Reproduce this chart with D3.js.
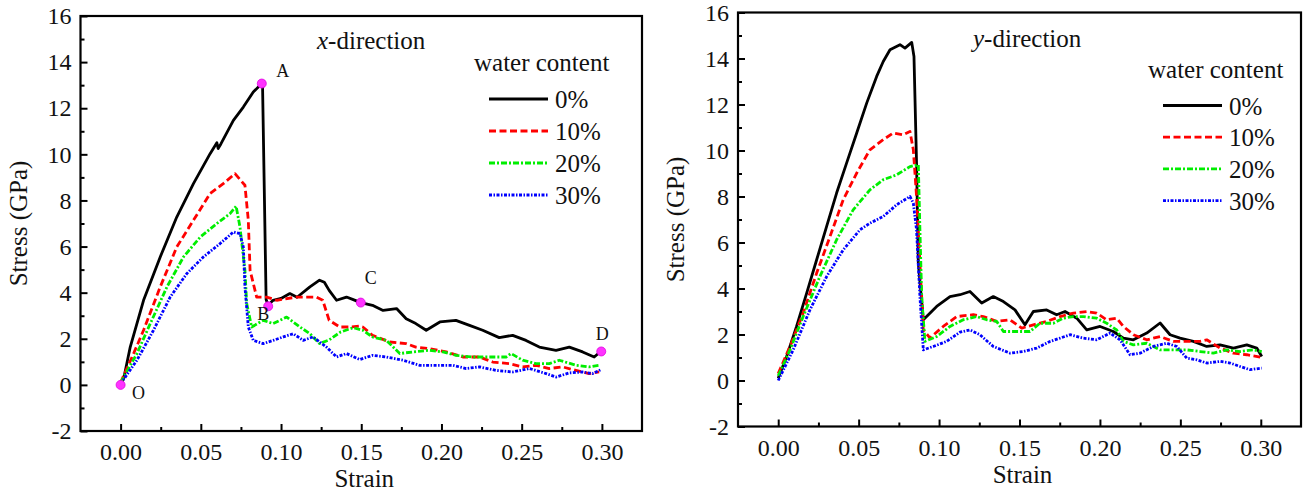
<!DOCTYPE html>
<html>
<head>
<meta charset="utf-8">
<script src="https://cdn.jsdelivr.net/npm/d3@7"></script>
<style>
  body { margin: 0; background: #fff; }
  svg text { font-family: "Liberation Serif", "Times New Roman", "DejaVu Serif", serif; fill: #111; }
</style>
</head>
<body>
<div id="chart-area"></div>
<script>
// tick values
var strainTicks = [0, 0.05, 0.10, 0.15, 0.20, 0.25, 0.30];
var strainMinor = [0.025, 0.075, 0.125, 0.175, 0.225, 0.275];
var stressTicks = [-2, 0, 2, 4, 6, 8, 10, 12, 14, 16];
var stressMinor = [-1, 1, 3, 5, 7, 9, 11, 13, 15];
var waterContent = ["0%", "10%", "20%", "30%"];

// x-direction, [strain, stress (GPa)]
var xdir0 = [[0,0],[0.002,0.3],[0.006,1.64],[0.0143,3.67],[0.0247,5.55],[0.035,7.28],[0.0454,8.73],[0.0558,10.03],[0.06,10.5],[0.0608,10.25],[0.0625,10.45],[0.0703,11.47],[0.0765,12.05],[0.0827,12.7],[0.088,13.07],[0.0885,12.9],[0.0907,3.7],[0.092,3.45],[0.095,3.67],[0.1,3.75],[0.1055,3.96],[0.11,3.8],[0.118,4.25],[0.124,4.54],[0.127,4.45],[0.130,4.1],[0.1346,3.67],[0.1408,3.81],[0.145,3.7],[0.1497,3.57],[0.157,3.45],[0.1636,3.23],[0.172,3.31],[0.178,2.87],[0.184,2.66],[0.1905,2.37],[0.199,2.73],[0.209,2.8],[0.2175,2.58],[0.2257,2.37],[0.236,2.05],[0.2444,2.15],[0.2527,1.93],[0.261,1.64],[0.2714,1.5],[0.2797,1.64],[0.288,1.43],[0.2952,1.21],[0.2994,1.46]];
var xdir10 = [[0,0.1],[0.0081,1.36],[0.0143,2.37],[0.0247,4.25],[0.035,5.98],[0.0454,7.14],[0.0558,8.3],[0.064,8.73],[0.0713,9.16],[0.0775,8.66],[0.0796,7.14],[0.0807,4.97],[0.0848,3.81],[0.091,3.81],[0.0973,3.67],[0.1097,3.81],[0.1221,3.81],[0.126,3.67],[0.130,2.8],[0.1366,2.51],[0.143,2.51],[0.149,2.55],[0.151,2.51],[0.157,2.15],[0.1677,1.86],[0.178,1.79],[0.184,1.64],[0.1926,1.57],[0.203,1.43],[0.2133,1.21],[0.2237,1.21],[0.232,0.99],[0.2423,0.92],[0.2506,0.78],[0.2589,0.85],[0.2672,0.71],[0.2755,0.78],[0.2838,0.63],[0.292,0.49],[0.2983,0.56]];
var xdir20 = [[0,0.1],[0.0102,1.36],[0.0185,2.66],[0.0289,4.25],[0.0392,5.55],[0.0496,6.41],[0.06,7.0],[0.0682,7.43],[0.072,7.75],[0.0744,6.85],[0.0775,4.97],[0.0786,3.53],[0.0817,2.51],[0.0889,2.8],[0.0951,2.66],[0.1035,2.94],[0.1118,2.51],[0.118,2.22],[0.124,1.79],[0.130,1.95],[0.137,2.29],[0.145,2.48],[0.151,2.37],[0.157,2.08],[0.1657,1.93],[0.174,1.36],[0.1822,1.43],[0.1926,1.5],[0.2009,1.43],[0.2092,1.28],[0.2195,1.21],[0.23,1.21],[0.2403,1.21],[0.2434,1.36],[0.2506,1.07],[0.2589,0.92],[0.2672,0.92],[0.2734,1.07],[0.2838,0.85],[0.292,0.78],[0.2983,0.85]];
var xdir30 = [[0,0.05],[0.0102,1.07],[0.0205,2.37],[0.0309,3.81],[0.0413,4.83],[0.0516,5.55],[0.062,6.13],[0.0703,6.63],[0.0744,6.56],[0.0765,5.98],[0.0775,4.25],[0.0796,2.51],[0.0827,1.93],[0.0889,1.79],[0.0951,1.93],[0.1014,2.08],[0.1076,2.22],[0.1138,1.93],[0.12,2.08],[0.1283,1.64],[0.1346,1.21],[0.1408,1.36],[0.149,1.1],[0.157,1.28],[0.1657,1.21],[0.176,1.07],[0.1864,0.85],[0.1968,0.85],[0.2071,0.85],[0.2154,0.71],[0.2237,0.78],[0.234,0.63],[0.2444,0.56],[0.2548,0.71],[0.2652,0.49],[0.2714,0.34],[0.2797,0.52],[0.288,0.56],[0.2942,0.49],[0.2994,0.66]];

// y-direction
var ydir0 = [[0,0.1],[0.0052,1.04],[0.0114,2.35],[0.0177,3.8],[0.0239,5.25],[0.0301,6.7],[0.0363,8.15],[0.0425,9.45],[0.0488,10.76],[0.055,12.06],[0.0612,13.22],[0.0653,13.87],[0.0695,14.38],[0.0757,14.6],[0.0788,14.45],[0.083,14.7],[0.0844,14.09],[0.086,9.45],[0.0871,5.1],[0.0902,2.64],[0.0985,3.22],[0.1068,3.65],[0.113,3.73],[0.1192,3.87],[0.1265,3.37],[0.1337,3.65],[0.14,3.43],[0.1472,3.07],[0.1534,2.42],[0.1586,3.0],[0.1669,3.07],[0.1731,2.86],[0.1783,3.0],[0.1856,2.71],[0.1918,2.2],[0.2001,2.35],[0.2083,2.13],[0.2146,1.84],[0.2208,1.77],[0.2291,2.06],[0.2374,2.5],[0.2436,1.99],[0.2498,1.84],[0.2581,1.7],[0.2664,1.48],[0.2747,1.55],[0.283,1.41],[0.2913,1.55],[0.2975,1.41],[0.3006,1.04]];
var ydir10 = [[0,0.3],[0.0073,1.48],[0.0155,2.93],[0.0239,4.67],[0.0322,6.26],[0.0404,7.86],[0.0488,9.02],[0.057,10.03],[0.0653,10.47],[0.0715,10.76],[0.0777,10.68],[0.0819,10.83],[0.084,10.03],[0.086,8.0],[0.0881,5.1],[0.0902,2.2],[0.0943,1.85],[0.1026,2.35],[0.111,2.78],[0.1213,2.86],[0.1275,2.78],[0.1358,2.57],[0.1441,2.64],[0.1514,2.28],[0.1586,2.42],[0.1669,2.57],[0.1752,2.78],[0.1835,2.93],[0.1918,3.0],[0.198,2.93],[0.2042,2.64],[0.2104,2.71],[0.2146,2.35],[0.2208,1.99],[0.2291,1.77],[0.2374,1.91],[0.2456,1.7],[0.254,1.7],[0.2622,1.7],[0.2664,1.77],[0.2747,1.41],[0.283,1.19],[0.2913,1.12],[0.2996,1.02]];
var ydir20 = [[0,0.2],[0.0073,1.33],[0.0155,2.78],[0.0259,4.52],[0.0363,6.12],[0.0466,7.42],[0.057,8.29],[0.0653,8.73],[0.0736,8.94],[0.0819,9.3],[0.0871,9.38],[0.0881,6.55],[0.0892,3.65],[0.0912,1.7],[0.0985,1.91],[0.1068,2.35],[0.115,2.64],[0.1234,2.78],[0.1296,2.64],[0.1358,2.57],[0.14,2.13],[0.1483,2.13],[0.1565,2.13],[0.1627,2.49],[0.171,2.49],[0.1772,2.71],[0.1835,2.78],[0.1897,2.78],[0.198,2.71],[0.2042,2.49],[0.2104,2.2],[0.2146,1.7],[0.2208,1.55],[0.2291,1.62],[0.2374,1.33],[0.2456,1.33],[0.254,1.33],[0.2622,1.26],[0.2705,1.19],[0.2789,1.33],[0.2871,1.26],[0.2954,1.33],[0.3006,1.26]];
var ydir30 = [[0,0],[0.0093,1.33],[0.0197,3.07],[0.0301,4.52],[0.0404,5.68],[0.0508,6.55],[0.057,6.84],[0.0653,7.13],[0.0736,7.64],[0.0819,8.0],[0.084,7.71],[0.086,6.55],[0.0881,3.65],[0.0902,1.33],[0.0964,1.48],[0.1047,1.7],[0.113,2.1],[0.1192,2.2],[0.1254,1.99],[0.1337,1.48],[0.1441,1.19],[0.1524,1.26],[0.1607,1.41],[0.169,1.7],[0.1752,1.84],[0.1814,1.99],[0.1897,1.84],[0.198,1.77],[0.2063,2.06],[0.2125,1.77],[0.2167,1.33],[0.2187,1.12],[0.225,1.19],[0.2332,1.48],[0.2415,1.62],[0.2478,1.48],[0.254,0.97],[0.2602,0.9],[0.2664,0.76],[0.2747,0.83],[0.2809,0.76],[0.2871,0.61],[0.2933,0.47],[0.3006,0.54]];

// marked points on the x-direction 0% curve
var xMarkers = [
  { name: "O", strain: 0, stress: 0 },
  { name: "A", strain: 0.088, stress: 13.07 },
  { name: "B", strain: 0.092, stress: 3.41 },
  { name: "C", strain: 0.1497, stress: 3.57 },
  { name: "D", strain: 0.2996, stress: 1.45 }
];

var W = 1308, H = 499;
var serif = "'Liberation Serif', 'Times New Roman', 'DejaVu Serif', serif";
var colors = ["#000000", "#ff0000", "#00ee00", "#0000ff"];
var dashes = [null, "7,3.5", "6,2,2,2", "3,1.5,1.5,1.5"];
var labelOffset = { O: [18, 14], A: [21, -7], B: [-5, 14], C: [10, -19], D: [1, -11] };

var svg = d3.select("#chart-area")
  .append("svg")
  .attr("width", W)
  .attr("height", H)
  .attr("font-family", serif)
  .style("background", "#fff");

function drawPanel(p) {
  var x = d3.scaleLinear().domain([-0.025, 0.325]).range([p.left, p.right]);
  var y = d3.scaleLinear().domain([-2, 16]).range([p.bottom, p.top]);
  var g = svg.append("g");

  // curves
  var line = d3.line().x(d => x(d[0])).y(d => y(d[1]));
  p.series.forEach((s, i) => {
    g.append("path")
      .datum(s)
      .attr("d", line)
      .attr("fill", "none")
      .attr("stroke", colors[i])
      .attr("stroke-width", 2.8)
      .attr("stroke-linejoin", "round")
      .attr("stroke-dasharray", dashes[i]);
  });

  // axes (ticks inward)
  g.append("g")
    .attr("transform", "translate(0," + p.bottom + ")")
    .call(d3.axisBottom(x).tickValues(strainTicks).tickSize(-7).tickPadding(12)
      .tickFormat(d3.format(".2f")));
  g.append("g")
    .attr("transform", "translate(0," + p.bottom + ")")
    .call(d3.axisBottom(x).tickValues(strainMinor).tickSize(-4).tickFormat(""));
  g.append("g")
    .attr("transform", "translate(" + p.left + ",0)")
    .call(d3.axisLeft(y).tickValues(stressTicks).tickSize(-7).tickPadding(9)
      .tickFormat(d => String(d)));
  g.append("g")
    .attr("transform", "translate(" + p.left + ",0)")
    .call(d3.axisLeft(y).tickValues(stressMinor).tickSize(-4).tickFormat(""));

  g.selectAll(".domain").remove();
  g.selectAll("g").attr("font-family", serif);
  g.selectAll(".tick line").attr("stroke", "#000").attr("stroke-width", 2);
  g.selectAll(".tick text")
    .style("font-family", serif)
    .style("font-size", "24px")
    .attr("fill", "#111");

  // frame
  g.append("rect")
    .attr("x", p.left).attr("y", p.top)
    .attr("width", p.right - p.left).attr("height", p.bottom - p.top)
    .attr("fill", "none").attr("stroke", "#000").attr("stroke-width", 2.2);

  // axis titles
  g.append("text")
    .attr("x", (x(0) + x(0.30)) / 2 + 3)
    .attr("y", p.bottom + 56)
    .attr("text-anchor", "middle")
    .attr("font-size", "25px")
    .text("Strain");
  g.append("text")
    .attr("transform", "translate(" + (p.left - 54) + "," + (y(7)) + ") rotate(-90)")
    .attr("text-anchor", "middle")
    .attr("font-size", "25px")
    .text("Stress (GPa)");

  // direction label
  var t = g.append("text")
    .attr("x", p.titleX).attr("y", p.titleY)
    .attr("font-size", "25px");
  t.append("tspan").attr("font-style", "italic").text(p.dir);
  t.append("tspan").text("-direction");

  // legend
  g.append("text")
    .attr("x", p.legX - 15).attr("y", p.legY - 28)
    .attr("font-size", "25px")
    .text("water content");
  waterContent.forEach((w, i) => {
    var ly = p.legY + i * p.legStep;
    g.append("line")
      .attr("x1", p.legX).attr("x2", p.legX + 59)
      .attr("y1", ly).attr("y2", ly)
      .attr("stroke", colors[i])
      .attr("stroke-width", 2.8)
      .attr("stroke-dasharray", dashes[i]);
    g.append("text")
      .attr("x", p.legX + 66).attr("y", ly + 9)
      .attr("font-size", "25px")
      .text(w);
  });

  // marked points
  if (p.markers) {
    p.markers.forEach(m => {
      g.append("circle")
        .attr("cx", x(m.strain)).attr("cy", y(m.stress))
        .attr("r", 4.5)
        .attr("fill", "#ff33ff")
        .attr("stroke", "#e000e0")
        .attr("stroke-width", 0.8);
      var off = labelOffset[m.name];
      g.append("text")
        .attr("x", x(m.strain) + off[0]).attr("y", y(m.stress) + off[1])
        .attr("text-anchor", "middle")
        .attr("font-size", "18px")
        .text(m.name);
    });
  }
}

drawPanel({
  left: 80.5, right: 642, top: 16, bottom: 431,
  series: [xdir0, xdir10, xdir20, xdir30],
  dir: "x", titleX: 317, titleY: 49,
  legX: 489, legY: 99, legStep: 32,
  markers: xMarkers
});

drawPanel({
  left: 738, right: 1301, top: 12.5, bottom: 426.5,
  series: [ydir0, ydir10, ydir20, ydir30],
  dir: "y", titleX: 973, titleY: 47,
  legX: 1163, legY: 105.5, legStep: 31.7
});
</script>
</body>
</html>
